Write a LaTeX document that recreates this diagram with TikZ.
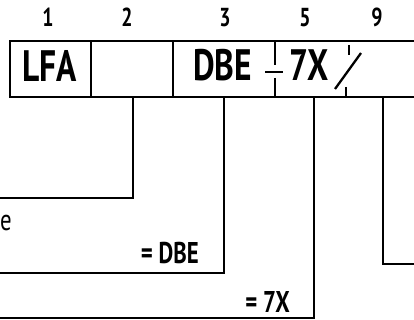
\documentclass[tikz,border=0pt]{standalone}
\usepackage{fontspec}
\setmainfont{PT Sans}[FakeStretch=0.76]
\usetikzlibrary{positioning}
\begin{document}
\begin{tikzpicture}[x=1pt,y=-1pt,
  num/.style={font=\fontsize{26}{26}\selectfont\bfseries,inner sep=0pt,anchor=base},
  fld/.style={font=\fontsize{44}{44}\selectfont\bfseries,inner sep=0pt,anchor=base},
  lbl/.style={font=\fontsize{30}{30}\selectfont\bfseries,inner sep=0pt,anchor=base east},
  frame/.style={line width=2.3pt},
  lead/.style={line width=1.2pt}
]
\useasboundingbox (0,0) rectangle (414,320);
\clip (0,0) rectangle (414,320);
% column numbers
\node[num] (n1) at (48,27) {1};
\node[num] (n2) at (127,27) {2};
\node[num] (n3) at (225,27) {3};
\node[num] (n5) at (305,27) {5};
\node[num] (n9) at (377,27) {9};
% frame
\draw[frame] (420,41) -- (10,41) -- (10,97) -- (420,97);
\draw[frame] (91,41) -- (91,97);
\draw[frame] (173,41) -- (173,97);
\draw[frame] (275,41) -- (275,65) (275,78) -- (275,97);
\draw[frame] (265,72) -- (283,72);
\draw[frame] (349,45) -- (349,55);
\draw[frame] (346,87) -- (346,97);
\draw[frame] (335,89) -- (361,53);
% field contents
\node[fld] (lfa) at (49.5,82) {LFA};
\node[fld] (dbe) at (222.5,81) {DBE};
\node[fld] (sx) at (309.5,81) {7X};
% leader ends
\coordinate (p2) at (133,97);
\coordinate (p3) at (224,97);
\coordinate (p5) at (314,97);
\coordinate (p9) at (383,97);
\coordinate (e2) at (0,198);
\coordinate (e3) at (0,273);
\coordinate (e5) at (0,318);
\coordinate (e9) at (420,264);
\draw[lead] (p2) |- (e2);
\draw[lead] (p3) |- (e3);
\draw[lead] (p5) |- (e5);
\draw[lead] (p9) |- (e9);
% labels
\node[font=\fontsize{30}{30}\selectfont,inner sep=0pt,anchor=base west] (le) at (0,230) {e};
\node[lbl] (ldbe) at (199,263) {= DBE};
\node[lbl] (lsx) at (290,312) {= 7X};
\end{tikzpicture}
\end{document}
